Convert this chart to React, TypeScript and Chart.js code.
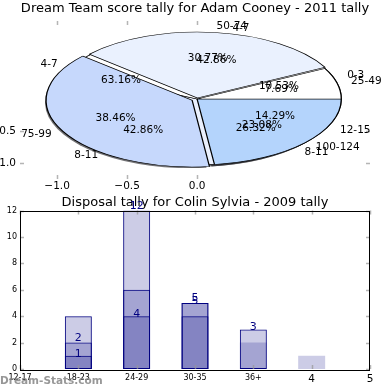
import React, { useEffect, useRef } from 'react';
import { Chart, registerables } from 'chart.js';

Chart.register(...registerables);

// ---------- data ----------
const PIE_TITLE = 'Dream Team score tally for Adam Cooney - 2011 tally';
const PIE_A_LABELS = ['25-49', '50-74', '75-99', '100-124'];
const PIE_A_VALUES = [1, 4, 5, 3];
const PIE_B_LABELS = ['0-3', '4-7', '8-11'];
const PIE_B_VALUES = [2, 12, 5];
const PIE_C_LABELS = ['4-7', '8-11', '12-15'];
const PIE_C_VALUES = [3, 3, 1];
const PIE_X_TICKS = [-1, -0.5, 0];
const PIE_Y_TICKS = [-1, -0.5];

const BAR_TITLE = 'Disposal tally for Colin Sylvia - 2009 tally';
const BAR_TICK_LABELS = ['12-17', '18-23', '24-29', '30-35', '36+', '4', '5'];
const BAR_SERIES_1 = [0, 1, 4, 5, 3, 0, 0];
const BAR_SERIES_2 = [0, 2, 12, 5, 0, 0, 0];
const BAR_SERIES_3 = [0, 4, 6, 4, 0, 0, 0];
const BAR_SERIES_4 = [0, 0, 0, 0, 2, 1, 0];
const BAR_Y_TICKS = [0, 2, 4, 6, 8, 10, 12];
const WATERMARK = 'Dream-Stats.com';

// ---------- style ----------
const FONT = '"DejaVu Sans", sans-serif';
const PIE_R = 1.03;
const PIE_A_COLORS = ['#ffffff', '#eaf1fe', '#c6d8fc', '#b4d4fc'];
const PIE_C_COLORS = ['#ffffff', '#eaf0fd', '#c6d8fc'];
const PIE_A_OFFSETS = [0, 6, 14, 0];
const NAVY = '#000080';
const BAR_FILL = 'rgba(0,0,128,0.2)';

type Geom = { cx: number; cy: number; ux: number; uy: number };

const rev = <T,>(a: T[]) => [...a].reverse();
const fmtTick = (v: number) => (v < 0 ? '\u2212' : '') + Math.abs(v).toFixed(1);

function applyEllipse(ctx: CanvasRenderingContext2D, chart: Chart, g: Geom, dx = 0, dy = 0) {
  const el: any = chart.getDatasetMeta(0).data[0];
  const R = el.outerRadius;
  ctx.translate(g.cx + dx, g.cy + dy);
  ctx.scale((PIE_R * g.ux) / R, (PIE_R * g.uy) / R);
  ctx.translate(-el.x, -el.y);
}

function ellipsePlugin(g: Geom, shadowOf: () => Chart[]) {
  return {
    id: 'ellipse',
    beforeDatasetsDraw(chart: Chart) {
      const ctx = chart.ctx;
      const list = shadowOf();
      list.forEach((c) => {
        ctx.save();
        applyEllipse(ctx, c, g, -3, 2);
        ctx.fillStyle = 'rgba(20,20,25,0.6)';
        c.getDatasetMeta(0).data.forEach((e: any) => {
          const off = (e.options.offset || 0) / 4;
          const mid = (e.startAngle + e.endAngle) / 2;
          const ox = e.x + Math.cos(mid) * off;
          const oy = e.y + Math.sin(mid) * off;
          ctx.beginPath();
          ctx.moveTo(ox, oy);
          ctx.arc(ox, oy, e.outerRadius, e.startAngle, e.endAngle);
          ctx.closePath();
          ctx.fill();
        });
        ctx.restore();
      });
      ctx.save();
      applyEllipse(ctx, chart, g);
    },
    afterDatasetsDraw(chart: Chart) {
      chart.ctx.restore();
    },
  };
}

function drawPieText(ctx: CanvasRenderingContext2D, g: Geom, values: number[], labels: string[], explode: number[]) {
  const total = values.reduce((a, b) => a + b, 0);
  let a0 = 0;
  values.forEach((v, i) => {
    const frac = v / total;
    const a1 = a0 + frac * 2 * Math.PI;
    const m = (a0 + a1) / 2;
    const e = explode[i] || 0;
    const bx = e * Math.cos(m);
    const by = e * Math.sin(m);
    const toPx = (r: number) => [g.cx + (bx + r * Math.cos(m)) * g.ux, g.cy - (by + r * Math.sin(m)) * g.uy];
    const [lx, ly] = toPx(1.1 * PIE_R);
    ctx.textAlign = Math.cos(m) > 0 ? 'left' : 'right';
    ctx.fillText(labels[i], lx, ly);
    const [px, py] = toPx(0.6 * PIE_R);
    ctx.textAlign = 'center';
    ctx.fillText((frac * 100).toFixed(2) + '%', px, py);
    a0 = a1;
  });
}

function tickMarkPlugin(color: string, len: number) {
  return {
    id: 'tickMarks',
    afterDraw(chart: Chart) {
      const { ctx, chartArea: a } = chart;
      const xs: any = chart.scales.x;
      const ys: any = chart.scales.y;
      ctx.save();
      ctx.strokeStyle = color;
      ctx.lineWidth = 1.5;
      ctx.beginPath();
      xs.ticks.forEach((_: any, i: number) => {
        const p = Math.round(xs.getPixelForTick(i)) + 0.5;
        ctx.moveTo(p, a.bottom);
        ctx.lineTo(p, a.bottom - len);
        ctx.moveTo(p, a.top);
        ctx.lineTo(p, a.top + len);
      });
      ys.ticks.forEach((_: any, i: number) => {
        const p = Math.round(ys.getPixelForTick(i)) + 0.5;
        ctx.moveTo(a.left, p);
        ctx.lineTo(a.left + len, p);
        ctx.moveTo(a.right, p);
        ctx.lineTo(a.right - len, p);
      });
      ctx.stroke();
      ctx.restore();
    },
  };
}

export default function App() {
  const axesRef = useRef<HTMLCanvasElement>(null);
  const lowerRef = useRef<HTMLCanvasElement>(null);
  const upperRef = useRef<HTMLCanvasElement>(null);
  const barRef = useRef<HTMLCanvasElement>(null);

  useEffect(() => {
    const charts: Chart[] = [];
    const base = { responsive: false, animation: false as const, devicePixelRatio: 1, events: [] as any[] };

    // ---- pie axes ----
    const axes = new Chart(axesRef.current!, {
      type: 'scatter',
      data: { datasets: [] },
      options: {
        ...base,
        layout: { padding: { left: 0, right: 20, top: 0, bottom: 0 } },
        plugins: {
          legend: { display: false },
          tooltip: { enabled: false },
          title: {
            display: true,
            text: PIE_TITLE,
            fullSize: false,
            color: '#000',
            font: { family: FONT, size: 13, weight: 'normal', lineHeight: 1 },
            padding: { top: 2.5, bottom: 5.5 },
          },
        },
        scales: {
          x: {
            type: 'linear',
            min: -1.265,
            max: 1.235,
            grid: { display: false, drawTicks: false },
            border: { display: false },
            afterBuildTicks: (s: any) => {
              s.ticks = PIE_X_TICKS.map((value) => ({ value }));
            },
            afterFit: (s: any) => {
              s.height = 16;
            },
            ticks: {
              color: '#000',
              padding: 1,
              maxRotation: 0,
              font: { family: FONT, size: 10.5, lineHeight: 1.2 },
              callback: (v: any) => fmtTick(Number(v)),
            },
          },
          y: {
            type: 'linear',
            min: -1.25,
            max: 1.22,
            grid: { display: false, drawTicks: false },
            border: { display: false },
            afterBuildTicks: (s: any) => {
              s.ticks = PIE_Y_TICKS.map((value) => ({ value }));
            },
            afterFit: (s: any) => {
              s.width = 20;
            },
            ticks: {
              color: '#000',
              padding: 4,
              font: { family: FONT, size: 10.5 },
              callback: (v: any) => fmtTick(Number(v)),
            },
          },
        },
      } as any,
      plugins: [tickMarkPlugin('rgba(150,150,150,0.7)', 4)],
    });
    charts.push(axes);

    const xs: any = axes.scales.x;
    const ys: any = axes.scales.y;
    const g: Geom = {
      cx: xs.getPixelForValue(0),
      cy: ys.getPixelForValue(0),
      ux: xs.getPixelForValue(1) - xs.getPixelForValue(0),
      uy: ys.getPixelForValue(0) - ys.getPixelForValue(1),
    };

    const pieOptions = {
      ...base,
      rotation: 90,
      layout: { padding: 0 },
      plugins: { legend: { display: false }, tooltip: { enabled: false }, title: { display: false } },
    };

    // ---- top pie (A) ----
    const pieA = new Chart(upperRef.current!, {
      type: 'pie',
      data: {
        labels: rev(PIE_A_LABELS),
        datasets: [
          {
            data: rev(PIE_A_VALUES),
            backgroundColor: rev(PIE_A_COLORS),
            borderColor: '#000',
            borderWidth: 0.8,
            offset: rev(PIE_A_OFFSETS),
            hoverOffset: 0,
            clip: false,
          } as any,
        ],
      },
      options: pieOptions as any,
      plugins: [
        ellipsePlugin(g, () => []),
        {
          id: 'pieText',
          afterDraw(chart: Chart) {
            const ctx = chart.ctx;
            const meta = chart.getDatasetMeta(0);
            const n = meta.data.length;
            const explodeA = PIE_A_VALUES.map((_, i) => {
              const e: any = meta.data[n - 1 - i];
              return ((e.options.offset || 0) / 4 / e.outerRadius) * PIE_R;
            });
            ctx.save();
            ctx.fillStyle = '#000';
            ctx.font = `10.5px ${FONT}`;
            ctx.textBaseline = 'middle';
            drawPieText(ctx, g, PIE_A_VALUES, PIE_A_LABELS, explodeA);
            drawPieText(ctx, g, PIE_B_VALUES, PIE_B_LABELS, []);
            drawPieText(ctx, g, PIE_C_VALUES, PIE_C_LABELS, []);
            ctx.restore();
          },
        },
      ],
    });
    charts.push(pieA);

    // ---- lower pie (C) ----
    let pieC: Chart | null = null;
    pieC = new Chart(lowerRef.current!, {
      type: 'pie',
      data: {
        labels: rev(PIE_C_LABELS),
        datasets: [
          {
            data: rev(PIE_C_VALUES),
            backgroundColor: rev(PIE_C_COLORS),
            borderColor: '#000',
            borderWidth: 0.8,
            hoverOffset: 0,
            clip: false,
          } as any,
        ],
      },
      options: pieOptions as any,
      plugins: [ellipsePlugin(g, () => (pieC ? [pieC, pieA] : [pieA]))],
    });
    pieC.draw();
    charts.push(pieC);

    // ---- bar chart ----
    const series = [BAR_SERIES_1, BAR_SERIES_2, BAR_SERIES_3, BAR_SERIES_4];
    const edged = [true, true, true, false];
    const labelLift = [2, 4.5, 0, 0];
    const labeled = [true, true, false, false];
    const bar = new Chart(barRef.current!, {
      type: 'bar',
      data: {
        labels: BAR_TICK_LABELS,
        datasets: series.map((s, k) => ({
          label: 'S' + (k + 1),
          data: s.map((v) => (v === 0 ? null : v)),
          backgroundColor: BAR_FILL,
          borderColor: NAVY,
          borderWidth: edged[k] ? 1 : 0,
          borderSkipped: false,
        })) as any,
      },
      options: {
        ...base,
        layout: { padding: { left: 0, right: 20, top: 0, bottom: 0 } },
        datasets: { bar: { grouped: false, categoryPercentage: 1, barPercentage: 0.463 } },
        plugins: {
          legend: { display: false },
          tooltip: { enabled: false },
          title: {
            display: true,
            text: BAR_TITLE,
            fullSize: false,
            color: '#000',
            font: { family: FONT, size: 13, weight: 'normal', lineHeight: 1 },
            padding: { top: 1, bottom: 1.5 },
          },
        },
        scales: {
          x: {
            type: 'category',
            offset: false,
            grid: { display: false, drawTicks: false, offset: false },
            border: { display: false },
            afterFit: (s: any) => {
              s.height = 21;
            },
            ticks: {
              autoSkip: false,
              maxRotation: 0,
              padding: 5,
              color: '#000',
              font: (c: any) => ({ family: FONT, size: c.index >= 5 ? 10.5 : 8, lineHeight: 1 }),
            },
          },
          y: {
            type: 'linear',
            min: 0,
            max: 12,
            grid: { display: false, drawTicks: false },
            border: { display: false },
            afterBuildTicks: (s: any) => {
              s.ticks = BAR_Y_TICKS.map((value) => ({ value }));
            },
            afterFit: (s: any) => {
              s.width = 20;
            },
            ticks: { padding: 3, color: '#000', font: { family: FONT, size: 8 } },
          },
        },
      } as any,
      plugins: [
        {
          id: 'barValues',
          afterDatasetsDraw(chart: Chart) {
            const ctx = chart.ctx;
            ctx.save();
            ctx.fillStyle = NAVY;
            ctx.font = `11px ${FONT}`;
            ctx.textAlign = 'center';
            ctx.textBaseline = 'middle';
            series.forEach((s, k) => {
              if (!labeled[k]) return;
              const meta = chart.getDatasetMeta(k);
              s.forEach((v, i) => {
                if (!v) return;
                const el: any = meta.data[i];
                ctx.fillText(String(v), el.x, el.y - labelLift[k]);
              });
            });
            ctx.restore();
          },
        },
        tickMarkPlugin('rgba(150,150,150,0.7)', 4),
        {
          id: 'frameAndMark',
          afterDraw(chart: Chart) {
            const { ctx, chartArea: a } = chart;
            ctx.save();
            ctx.strokeStyle = '#000';
            ctx.lineWidth = 1;
            ctx.strokeRect(Math.round(a.left) + 0.5, Math.round(a.top) + 0.5, Math.round(a.right - a.left) - 1, Math.round(a.bottom - a.top));
            ctx.fillStyle = 'rgba(140,140,140,0.9)';
            ctx.font = `bold 10.5px ${FONT}`;
            ctx.textAlign = 'left';
            ctx.textBaseline = 'middle';
            ctx.fillText(WATERMARK, 0, 186);
            ctx.restore();
          },
        },
      ],
    });
    charts.push(bar);

    return () => charts.forEach((c) => c.destroy());
  }, []);

  const abs = (top: number): React.CSSProperties => ({ position: 'absolute', left: 0, top, width: 390, height: 195 });
  return (
    <div style={{ position: 'absolute', left: 0, top: 0, width: 390, height: 390, background: '#fff', overflow: 'hidden' }}>
      <canvas ref={axesRef} width={390} height={195} style={abs(0)} />
      <canvas ref={lowerRef} width={390} height={195} style={abs(0)} />
      <canvas ref={upperRef} width={390} height={195} style={abs(0)} />
      <canvas ref={barRef} width={390} height={195} style={abs(195)} />
    </div>
  );
}
